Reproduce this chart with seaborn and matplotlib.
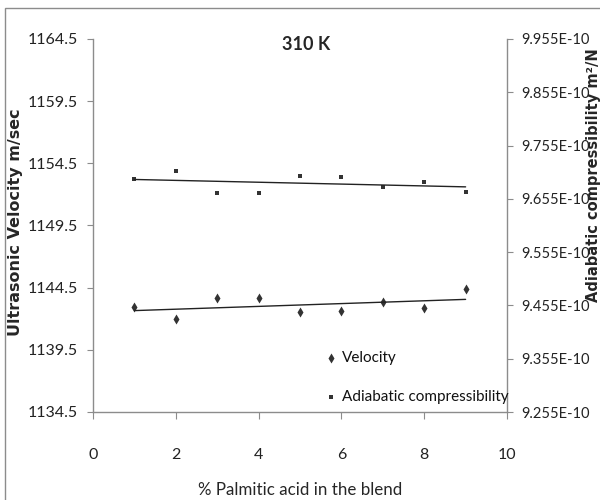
import numpy as np
import matplotlib
matplotlib.use("Agg")
import matplotlib.pyplot as plt
import matplotlib.patches as patches
from matplotlib.ticker import FuncFormatter
import seaborn as sns

# data
palmitic = [1, 2, 3, 4, 5, 6, 7, 8, 9]
velocity = [1142.92, 1141.95, 1143.69, 1143.69, 1142.51, 1142.64, 1143.34, 1142.83, 1144.39]
compress = [9.6918e-10, 9.7079e-10, 9.6666e-10, 9.6666e-10, 9.698e-10,
            9.6961e-10, 9.6773e-10, 9.6873e-10, 9.6685e-10]
vel_ticks = [1134.5, 1139.5, 1144.5, 1149.5, 1154.5, 1159.5, 1164.5]
comp_ticks = [9.255e-10, 9.355e-10, 9.455e-10, 9.555e-10, 9.655e-10, 9.755e-10, 9.855e-10, 9.955e-10]
x_ticks = [0, 2, 4, 6, 8, 10]

sns.set_style("white")
plt.rcParams["font.family"] = ["Lato", "DejaVu Sans"]

fig = plt.figure(figsize=(6, 5), dpi=100)
ax = fig.add_axes([93 / 600, 1 - 412 / 500, 414 / 600, 373 / 500])
ax2 = ax.twinx()

# velocity on left axis
sns.regplot(x=palmitic, y=velocity, ax=ax, ci=None, marker="d", color="black",
            scatter_kws={"s": 26, "linewidths": 0}, line_kws={"lw": 1, "color": "#222222"},
            label="Velocity")
# compressibility on right axis
sns.regplot(x=palmitic, y=compress, ax=ax2, ci=None, marker="s", color="black",
            scatter_kws={"s": 12, "linewidths": 0}, line_kws={"lw": 1, "color": "#222222"},
            label="Adiabatic compressibility")

ax.set_xlim(0, 10)
ax.set_xticks(x_ticks)
ax.set_ylim(1134.5, 1164.5)
ax.set_yticks(vel_ticks)
ax.yaxis.set_major_formatter(FuncFormatter(lambda v, p: f"{v:.1f}"))
ax2.set_ylim(9.255e-10, 9.955e-10)
ax2.set_yticks(comp_ticks)
ax2.yaxis.set_major_formatter(FuncFormatter(lambda v, p: f"{v * 1e10:.3f}E-10"))

for a in (ax, ax2):
    for s in a.spines.values():
        s.set_color("#8c8c8c")
        s.set_linewidth(1)
    a.spines["top"].set_visible(False)
    a.grid(False)
ax.spines["right"].set_visible(False)
ax2.spines["left"].set_visible(False)
ax2.spines["bottom"].set_visible(False)

ax.tick_params(axis="y", direction="out", length=4, color="#8c8c8c", labelsize=11.5, pad=7,
               left=True, labelcolor="#222222")
ax.tick_params(axis="x", direction="out", length=5, color="#8c8c8c", labelsize=11.5, pad=21,
               bottom=True, labelcolor="#222222")
ax2.tick_params(axis="y", direction="out", length=4, color="#8c8c8c", labelsize=10.5, pad=6,
                right=True, labelcolor="#222222")

ax.set_ylabel("Ultrasonic Velocity m/sec", family="DejaVu Sans", fontweight="bold", fontsize=11.5)
ax.yaxis.set_label_coords(-0.169, 0.509)
ax2.set_ylabel("Adiabatic compressibility m\u00b2/N", family="DejaVu Sans", fontweight="bold",
               fontsize=10.5, rotation=90)
ax2.yaxis.set_label_coords(1.191, 0.635)
ax.set_xlabel("% Palmitic acid in the blend", fontsize=12.2)
ax.xaxis.set_label_coords(0.5, -0.188)

fig.text(306 / 600, 1 - 45 / 500, "310 K", fontweight="bold", fontsize=13, ha="center", va="center")

h1, l1 = ax.get_legend_handles_labels()
h2, l2 = ax2.get_legend_handles_labels()
leg = ax2.legend(h1 + h2, l1 + l2, loc="upper left", bbox_to_anchor=(322 / 600, 1 - 345 / 500),
                 bbox_transform=fig.transFigure, frameon=False, fontsize=11,
                 handlelength=0.4, handletextpad=0.5, labelspacing=1.6, borderaxespad=0)
for t in leg.get_texts():
    t.set_color("#111111")

# outer chart border
fig.patches.append(patches.Rectangle((5 / 600, -0.02), 1.0, 1 - 8 / 500 + 0.02,
                                     transform=fig.transFigure, fill=False,
                                     edgecolor="#8c8c8c", lw=1))

fig.savefig("out.png", dpi=100)
